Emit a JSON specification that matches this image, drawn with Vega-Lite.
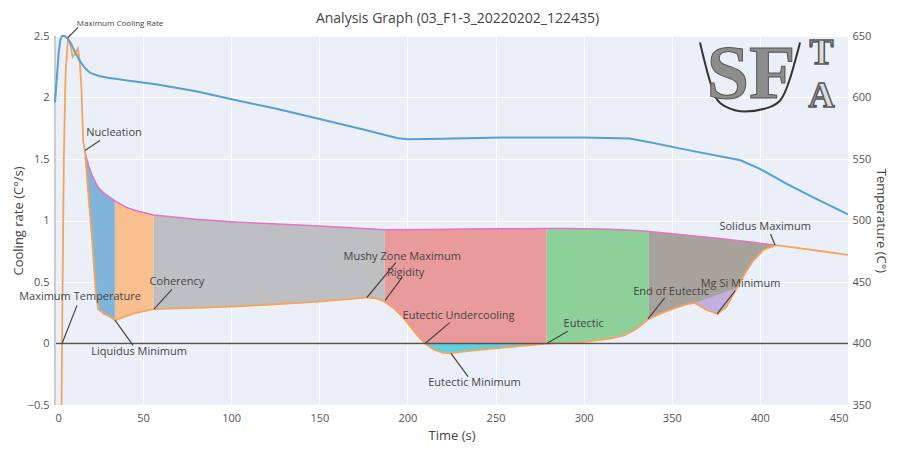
{
  "$schema": "https://vega.github.io/schema/vega-lite/v6.json",
  "width": 793,
  "height": 369,
  "autosize": {"type": "none"},
  "padding": {"left": 55, "top": 36, "right": 50, "bottom": 48},
  "background": "white",
  "title": {"text": "Analysis Graph (03_F1-3_20220202_122435)", "fontSize": 14, "font": "Open Sans", "fontWeight": "normal", "color": "#444", "offset": 12, "dy": 18, "dx": 6},
  "config": {
    "view": {"fill": "#ebf0f8", "stroke": null},
    "axis": {"gridColor": "white", "gridWidth": 1, "labelColor": "#555", "titleColor": "#444", "labelFont": "Open Sans", "titleFont": "Open Sans", "titleFontWeight": "normal", "labelFontSize": 11, "titleFontSize": 13, "domain": false, "ticks": false}
  },
  "datasets": {
    "orange": [
      {"t": 3.6, "cr": -0.7}, {"t": 4, "cr": 0}, {"t": 5, "cr": 1.5}, {"t": 6, "cr": 2.2}, {"t": 7.4, "cr": 2.48},
      {"t": 8.5, "cr": 2.45}, {"t": 10, "cr": 2.33}, {"t": 11.5, "cr": 2.36}, {"t": 13, "cr": 2.4}, {"t": 14, "cr": 2.3},
      {"t": 15, "cr": 2.08}, {"t": 16, "cr": 1.65}, {"t": 17, "cr": 1.56}, {"t": 19, "cr": 1.2}, {"t": 21, "cr": 0.85},
      {"t": 23, "cr": 0.45}, {"t": 24.5, "cr": 0.28}, {"t": 28, "cr": 0.24}, {"t": 31, "cr": 0.22}, {"t": 34, "cr": 0.19},
      {"t": 40, "cr": 0.22}, {"t": 46, "cr": 0.25}, {"t": 56, "cr": 0.28}, {"t": 80, "cr": 0.29}, {"t": 100, "cr": 0.3},
      {"t": 120, "cr": 0.315}, {"t": 150, "cr": 0.34}, {"t": 170, "cr": 0.365}, {"t": 177, "cr": 0.375}, {"t": 183, "cr": 0.365},
      {"t": 187, "cr": 0.34}, {"t": 192, "cr": 0.29}, {"t": 197, "cr": 0.22}, {"t": 202, "cr": 0.13}, {"t": 206, "cr": 0.06},
      {"t": 210, "cr": 0}, {"t": 215, "cr": -0.05}, {"t": 220, "cr": -0.075}, {"t": 224, "cr": -0.08}, {"t": 235, "cr": -0.06},
      {"t": 250, "cr": -0.04}, {"t": 265, "cr": -0.02}, {"t": 279, "cr": 0}, {"t": 290, "cr": 0.005}, {"t": 300, "cr": 0.012},
      {"t": 315, "cr": 0.04}, {"t": 323, "cr": 0.065}, {"t": 330, "cr": 0.12}, {"t": 337, "cr": 0.2}, {"t": 345, "cr": 0.25},
      {"t": 352, "cr": 0.29}, {"t": 359, "cr": 0.32}, {"t": 363, "cr": 0.33}, {"t": 370, "cr": 0.27}, {"t": 376, "cr": 0.24},
      {"t": 381, "cr": 0.3}, {"t": 387, "cr": 0.45}, {"t": 392, "cr": 0.58}, {"t": 396, "cr": 0.67}, {"t": 402, "cr": 0.76},
      {"t": 409, "cr": 0.8}, {"t": 420, "cr": 0.78}, {"t": 435, "cr": 0.75}, {"t": 450, "cr": 0.72}
    ],
    "pink": [
      {"t": 17, "cr": 1.56}, {"t": 19, "cr": 1.45}, {"t": 21, "cr": 1.37}, {"t": 23, "cr": 1.31}, {"t": 24.5, "cr": 1.27},
      {"t": 28, "cr": 1.22}, {"t": 31, "cr": 1.19}, {"t": 34, "cr": 1.16}, {"t": 40, "cr": 1.11}, {"t": 46, "cr": 1.08},
      {"t": 56, "cr": 1.045}, {"t": 80, "cr": 1.01}, {"t": 100, "cr": 0.99}, {"t": 120, "cr": 0.975}, {"t": 150, "cr": 0.955},
      {"t": 170, "cr": 0.94}, {"t": 187, "cr": 0.925}, {"t": 210, "cr": 0.926}, {"t": 235, "cr": 0.93}, {"t": 250, "cr": 0.932},
      {"t": 279, "cr": 0.935}, {"t": 290, "cr": 0.935}, {"t": 300, "cr": 0.933}, {"t": 315, "cr": 0.928}, {"t": 330, "cr": 0.918},
      {"t": 337, "cr": 0.91}, {"t": 352, "cr": 0.89}, {"t": 363, "cr": 0.875}, {"t": 376, "cr": 0.855}, {"t": 387, "cr": 0.838},
      {"t": 396, "cr": 0.823}, {"t": 402, "cr": 0.812}, {"t": 409, "cr": 0.8}
    ],
    "temp": [
      {"t": 0, "temp": 596}, {"t": 1, "temp": 615}, {"t": 2, "temp": 635}, {"t": 3, "temp": 647}, {"t": 4, "temp": 650},
      {"t": 5.5, "temp": 650}, {"t": 7, "temp": 648}, {"t": 9, "temp": 644}, {"t": 11, "temp": 638}, {"t": 14, "temp": 630},
      {"t": 17, "temp": 624}, {"t": 20, "temp": 620}, {"t": 25, "temp": 617.5}, {"t": 30, "temp": 616}, {"t": 40, "temp": 614},
      {"t": 58, "temp": 610.5}, {"t": 80, "temp": 605}, {"t": 99, "temp": 599}, {"t": 125, "temp": 591}, {"t": 149, "temp": 583},
      {"t": 175, "temp": 574}, {"t": 194, "temp": 567}, {"t": 200, "temp": 566}, {"t": 220, "temp": 566.5}, {"t": 253, "temp": 567.5},
      {"t": 300, "temp": 567.5}, {"t": 326, "temp": 566.7}, {"t": 336, "temp": 564}, {"t": 360, "temp": 557}, {"t": 389, "temp": 549},
      {"t": 400, "temp": 542}, {"t": 415, "temp": 530}, {"t": 430, "temp": 519}, {"t": 450, "temp": 505}
    ],
    "fills": [
      {"region": "a", "t": 17, "hi": 1.56, "lo": 1.56}, {"region": "a", "t": 19, "hi": 1.45, "lo": 1.2}, {"region": "a", "t": 21, "hi": 1.37, "lo": 0.85},
      {"region": "a", "t": 23, "hi": 1.31, "lo": 0.45}, {"region": "a", "t": 24.5, "hi": 1.27, "lo": 0.28}, {"region": "a", "t": 28, "hi": 1.22, "lo": 0.24},
      {"region": "a", "t": 31, "hi": 1.19, "lo": 0.22}, {"region": "a", "t": 34, "hi": 1.16, "lo": 0.19},
      {"region": "b", "t": 34, "hi": 1.16, "lo": 0.19}, {"region": "b", "t": 40, "hi": 1.11, "lo": 0.22}, {"region": "b", "t": 46, "hi": 1.08, "lo": 0.25},
      {"region": "b", "t": 56, "hi": 1.045, "lo": 0.28},
      {"region": "c", "t": 56, "hi": 1.045, "lo": 0.28}, {"region": "c", "t": 80, "hi": 1.01, "lo": 0.29}, {"region": "c", "t": 100, "hi": 0.99, "lo": 0.3},
      {"region": "c", "t": 120, "hi": 0.975, "lo": 0.315}, {"region": "c", "t": 150, "hi": 0.955, "lo": 0.34}, {"region": "c", "t": 170, "hi": 0.94, "lo": 0.365},
      {"region": "c", "t": 177, "hi": 0.935, "lo": 0.375}, {"region": "c", "t": 183, "hi": 0.93, "lo": 0.365}, {"region": "c", "t": 187, "hi": 0.925, "lo": 0.34},
      {"region": "d", "t": 187, "hi": 0.925, "lo": 0.34}, {"region": "d", "t": 192, "hi": 0.925, "lo": 0.29}, {"region": "d", "t": 197, "hi": 0.925, "lo": 0.22},
      {"region": "d", "t": 202, "hi": 0.925, "lo": 0.13}, {"region": "d", "t": 206, "hi": 0.925, "lo": 0.06}, {"region": "d", "t": 210, "hi": 0.926, "lo": 0},
      {"region": "d", "t": 235, "hi": 0.93, "lo": 0}, {"region": "d", "t": 250, "hi": 0.932, "lo": 0}, {"region": "d", "t": 279, "hi": 0.935, "lo": 0},
      {"region": "e", "t": 210, "hi": 0, "lo": 0}, {"region": "e", "t": 215, "hi": 0, "lo": -0.05}, {"region": "e", "t": 220, "hi": 0, "lo": -0.075},
      {"region": "e", "t": 224, "hi": 0, "lo": -0.08}, {"region": "e", "t": 235, "hi": 0, "lo": -0.06}, {"region": "e", "t": 250, "hi": 0, "lo": -0.04},
      {"region": "e", "t": 265, "hi": 0, "lo": -0.02}, {"region": "e", "t": 279, "hi": 0, "lo": 0},
      {"region": "f", "t": 279, "hi": 0.935, "lo": 0}, {"region": "f", "t": 290, "hi": 0.935, "lo": 0.005}, {"region": "f", "t": 300, "hi": 0.933, "lo": 0.012},
      {"region": "f", "t": 315, "hi": 0.928, "lo": 0.04}, {"region": "f", "t": 323, "hi": 0.924, "lo": 0.065}, {"region": "f", "t": 330, "hi": 0.918, "lo": 0.12},
      {"region": "f", "t": 337, "hi": 0.91, "lo": 0.2},
      {"region": "g", "t": 337, "hi": 0.91, "lo": 0.2}, {"region": "g", "t": 345, "hi": 0.9, "lo": 0.25}, {"region": "g", "t": 352, "hi": 0.89, "lo": 0.29},
      {"region": "g", "t": 359, "hi": 0.88, "lo": 0.32}, {"region": "g", "t": 363, "hi": 0.875, "lo": 0.33}, {"region": "g", "t": 370, "hi": 0.865, "lo": 0.27},
      {"region": "g", "t": 376, "hi": 0.855, "lo": 0.24}, {"region": "g", "t": 381, "hi": 0.848, "lo": 0.3}, {"region": "g", "t": 387, "hi": 0.838, "lo": 0.45},
      {"region": "g", "t": 392, "hi": 0.83, "lo": 0.58}, {"region": "g", "t": 396, "hi": 0.823, "lo": 0.67}, {"region": "g", "t": 402, "hi": 0.812, "lo": 0.76},
      {"region": "g", "t": 409, "hi": 0.8, "lo": 0.8},
      {"region": "h", "t": 363, "hi": 0.33, "lo": 0.33}, {"region": "h", "t": 370, "hi": 0.365, "lo": 0.27}, {"region": "h", "t": 376, "hi": 0.395, "lo": 0.24},
      {"region": "h", "t": 381, "hi": 0.42, "lo": 0.3}, {"region": "h", "t": 387, "hi": 0.45, "lo": 0.45}
    ],
    "ann": [
      {"label": "Maximum Cooling Rate", "tx": 36.9, "ty": 2.6, "ax": 13.1, "ay": 2.57, "px": 6.8, "py": 2.48},
      {"label": "Nucleation", "tx": 33.5, "ty": 1.71, "ax": 25.5, "ay": 1.65, "px": 17, "py": 1.57},
      {"label": "Maximum Temperature", "tx": 14.2, "ty": 0.374, "ax": 12.5, "ay": 0.31, "px": 4, "py": 0},
      {"label": "Liquidus Minimum", "tx": 47.7, "ty": -0.073, "ax": 44.3, "ay": -0.016, "px": 34, "py": 0.19},
      {"label": "Coherency", "tx": 69.2, "ty": 0.496, "ax": 66.4, "ay": 0.44, "px": 56.2, "py": 0.28},
      {"label": "Mushy Zone Maximum", "tx": 197, "ty": 0.707, "ax": 193.5, "ay": 0.66, "px": 177, "py": 0.374},
      {"label": "Rigidity", "tx": 199, "ty": 0.577, "ax": 197, "ay": 0.537, "px": 187.3, "py": 0.35},
      {"label": "Eutectic Undercooling", "tx": 229, "ty": 0.22, "ax": 224, "ay": 0.17, "px": 210, "py": 0},
      {"label": "Eutectic Minimum", "tx": 238, "ty": -0.325, "ax": 234.4, "ay": -0.27, "px": 224.7, "py": -0.08},
      {"label": "Eutectic", "tx": 300, "ty": 0.155, "ax": 291, "ay": 0.1, "px": 279, "py": 0},
      {"label": "End of Eutectic", "tx": 349.6, "ty": 0.42, "ax": 346, "ay": 0.37, "px": 336.5, "py": 0.2},
      {"label": "Mg Si Minimum", "tx": 389, "ty": 0.48, "ax": 386, "ay": 0.43, "px": 375.7, "py": 0.24},
      {"label": "Solidus Maximum", "tx": 403, "ty": 0.95, "ax": 406, "ay": 0.89, "px": 408.6, "py": 0.8}
    ],
    "bowl": [
      {"t": 366, "cr": 2.447}, {"t": 375, "cr": 2.0}, {"t": 380, "cr": 1.93}, {"t": 391.6, "cr": 1.886},
      {"t": 403, "cr": 1.91}, {"t": 411.5, "cr": 1.976}, {"t": 422.8, "cr": 2.447}
    ],
    "logo": [
      {"label": "SF", "t": 395, "cr": 2.0},
      {"label": "T", "t": 435, "cr": 2.27},
      {"label": "A", "t": 435, "cr": 1.92}
    ]
  },
  "layer": [
    {
      "layer": [
        {
          "data": {"name": "fills"},
          "mark": {"type": "area", "opacity": 1},
          "encoding": {
            "x": {"field": "t", "type": "quantitative", "scale": {"domain": [0, 450], "nice": false, "zero": false},
              "axis": {"values": [0, 50, 100, 150, 200, 250, 300, 350, 400, 450], "labelPadding": 7, "titlePadding": 6, "title": "Time (s)"}},
            "y": {"field": "hi", "type": "quantitative", "scale": {"domain": [-0.5, 2.5], "nice": false, "zero": false},
              "axis": {"orient": "left", "values": [-0.5, 0, 0.5, 1, 1.5, 2, 2.5], "format": "~g", "labelPadding": 6, "titlePadding": 2, "title": "Cooling rate (C°/s)"}},
            "y2": {"field": "lo"},
            "color": {"field": "region", "type": "nominal", "legend": null,
              "scale": {"domain": ["a", "b", "c", "d", "e", "f", "g", "h"],
                "range": ["#80b4da", "#f8c08f", "#bdbfc2", "#e99b9b", "#5fd0e0", "#8ed09a", "#a8a29d", "#c4b0e0"]}}
          }
        },
        {
          "data": {"name": "pink"},
          "mark": {"type": "line", "color": "#e673c6", "strokeWidth": 1.5},
          "encoding": {
            "x": {"field": "t", "type": "quantitative"},
            "y": {"field": "cr", "type": "quantitative"}
          }
        },
        {
          "data": {"name": "orange"},
          "mark": {"type": "line", "color": "#f7a35c", "strokeWidth": 1.8, "clip": true},
          "encoding": {
            "x": {"field": "t", "type": "quantitative"},
            "y": {"field": "cr", "type": "quantitative"}
          }
        },
        {
          "data": {"values": [{"z": 0}]},
          "mark": {"type": "rule", "color": "#555", "strokeWidth": 1.5},
          "encoding": {"y": {"field": "z", "type": "quantitative"}}
        },
        {
          "data": {"values": [{"z": 0}]},
          "mark": {"type": "rule", "color": "#c9ccd2", "strokeWidth": 2},
          "encoding": {"x": {"field": "z", "type": "quantitative"}}
        },
        {
          "data": {"name": "ann"},
          "mark": {"type": "rule", "color": "#444", "strokeWidth": 1.2},
          "encoding": {
            "x": {"field": "ax", "type": "quantitative"},
            "y": {"field": "ay", "type": "quantitative"},
            "x2": {"field": "px"},
            "y2": {"field": "py"}
          }
        },
        {
          "data": {"name": "ann"},
          "transform": [{"filter": "datum.label !== 'Maximum Cooling Rate'"}],
          "mark": {"type": "text", "font": "Open Sans", "fontSize": 11, "color": "#444", "align": "center", "baseline": "middle"},
          "encoding": {
            "x": {"field": "tx", "type": "quantitative"},
            "y": {"field": "ty", "type": "quantitative"},
            "text": {"field": "label"}
          }
        },
        {
          "data": {"name": "ann"},
          "transform": [{"filter": "datum.label === 'Maximum Cooling Rate'"}],
          "mark": {"type": "text", "font": "Open Sans", "fontSize": 8, "color": "#444", "align": "center", "baseline": "middle"},
          "encoding": {
            "x": {"field": "tx", "type": "quantitative"},
            "y": {"field": "ty", "type": "quantitative"},
            "text": {"field": "label"}
          }
        },
        {
          "data": {"name": "bowl"},
          "mark": {"type": "line", "color": "#333", "strokeWidth": 2, "interpolate": "monotone"},
          "encoding": {
            "x": {"field": "t", "type": "quantitative"},
            "y": {"field": "cr", "type": "quantitative"}
          }
        },
        {
          "data": {"name": "logo"},
          "transform": [{"filter": "datum.label === 'SF'"}],
          "mark": {"type": "text", "font": "Liberation Serif", "fontWeight": "bold", "fontSize": 76, "fill": "#8d8d8d", "stroke": "#555", "strokeWidth": 1, "align": "center", "baseline": "alphabetic"},
          "encoding": {
            "x": {"field": "t", "type": "quantitative"},
            "y": {"field": "cr", "type": "quantitative"},
            "text": {"field": "label"}
          }
        },
        {
          "data": {"name": "logo"},
          "transform": [{"filter": "datum.label !== 'SF'"}],
          "mark": {"type": "text", "font": "Liberation Serif", "fontWeight": "bold", "fontSize": 36, "fill": "#dcdcdc", "stroke": "#555", "strokeWidth": 1.5, "align": "center", "baseline": "alphabetic"},
          "encoding": {
            "x": {"field": "t", "type": "quantitative"},
            "y": {"field": "cr", "type": "quantitative"},
            "text": {"field": "label"}
          }
        }
      ]
    },
    {
      "data": {"name": "temp"},
      "mark": {"type": "line", "color": "#56a0d3", "strokeWidth": 2},
      "encoding": {
        "x": {"field": "t", "type": "quantitative"},
        "y": {"field": "temp", "type": "quantitative", "scale": {"domain": [350, 650], "nice": false, "zero": false},
          "axis": {"orient": "right", "values": [350, 400, 450, 500, 550, 600, 650], "grid": false, "labelPadding": 4, "titlePadding": 3, "title": "Temperature (C°)"}}
      }
    }
  ],
  "resolve": {"scale": {"y": "independent"}}
}
